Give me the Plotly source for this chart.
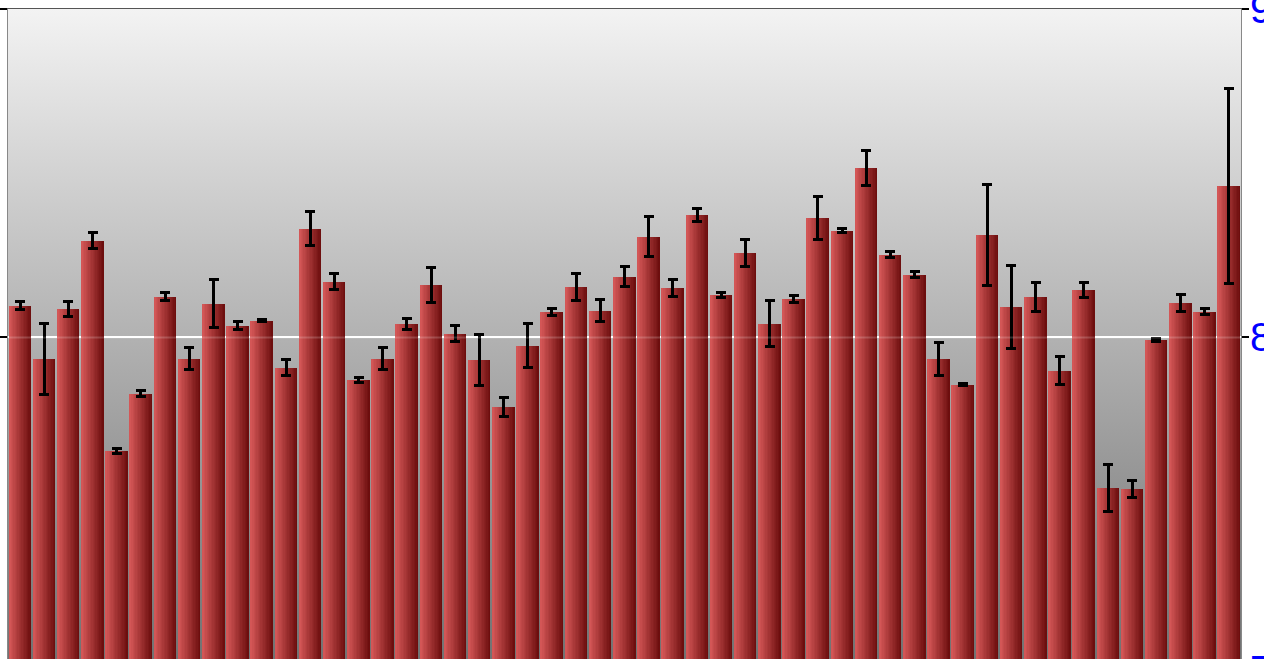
import base64
import plotly.graph_objects as go

# ---------------- data ----------------
categories = list(range(1, 52))
values = [8.097, 7.935, 8.087, 8.294, 7.655, 7.829, 8.124, 7.935, 8.103, 8.036,
          8.051, 7.908, 8.331, 8.170, 7.871, 7.935, 8.042, 8.160, 8.011, 7.932,
          7.789, 7.975, 8.078, 8.154, 8.081, 8.185, 8.307, 8.151, 8.374, 8.130,
          8.258, 8.042, 8.118, 8.364, 8.325, 8.517, 8.252, 8.191, 7.935, 7.856,
          8.313, 8.093, 8.124, 7.899, 8.145, 7.542, 7.539, 7.993, 8.106, 8.078,
          8.462]
errors = [0.012, 0.108, 0.022, 0.024, 0.008, 0.008, 0.012, 0.034, 0.073, 0.012,
          0.004, 0.025, 0.052, 0.025, 0.008, 0.033, 0.017, 0.053, 0.024, 0.078,
          0.029, 0.066, 0.010, 0.042, 0.034, 0.030, 0.060, 0.026, 0.020, 0.008,
          0.041, 0.071, 0.011, 0.065, 0.006, 0.053, 0.010, 0.009, 0.051, 0.003,
          0.154, 0.126, 0.044, 0.043, 0.022, 0.071, 0.026, 0.005, 0.026, 0.009,
          0.297]
tick_vals = [7, 8, 9]
tick_text = ["7", "8", "9"]

# ---------------- styling ----------------
Y_MIN, Y_MAX = 7.0207, 9.0
BAR_W = 0.91
N_STEPS = 16
LIGHT = (214, 88, 88)
DARK = (106, 12, 12)
LABEL_FONT = dict(family="Liberation Sans, Arial", size=40, color="#0000ff")

fig = go.Figure()

# horizontal gradient on bars: overlaid bars of decreasing width
for k in range(N_STEPS):
    t = (N_STEPS - k - 0.5) / N_STEPS  # position of visible strip from left (0) to right (1)
    c = tuple(int(round(LIGHT[i] + (DARK[i] - LIGHT[i]) * t)) for i in range(3))
    fig.add_trace(go.Bar(
        x=categories, y=values,
        width=BAR_W * (N_STEPS - k) / N_STEPS,
        offset=-BAR_W / 2,
        marker=dict(color="rgb(%d,%d,%d)" % c, line=dict(width=0)),
        hoverinfo="skip", showlegend=False,
    ))

# error bars on a transparent full-width bar
fig.add_trace(go.Bar(
    x=categories, y=values, width=BAR_W,
    marker=dict(color="rgba(0,0,0,0)", line=dict(width=0)),
    error_y=dict(type="data", array=errors, visible=True,
                 color="black", thickness=3, width=5),
    showlegend=False,
))

# vertical gradient background as an SVG image
svg = ('<svg xmlns="http://www.w3.org/2000/svg" width="10" height="100" '
       'viewBox="0 0 10 100" preserveAspectRatio="none">'
       '<defs><linearGradient id="g" x1="0" y1="0" x2="0" y2="1">'
       '<stop offset="0" stop-color="#f3f3f3"/>'
       '<stop offset="1" stop-color="#707070"/>'
       '</linearGradient></defs>'
       '<rect x="0" y="0" width="10" height="100" fill="url(#g)"/></svg>')
src = "data:image/svg+xml;base64," + base64.b64encode(svg.encode()).decode()

fig.add_layout_image(dict(
    source=src, xref="x", yref="y",
    x=categories[0] - 0.5, y=tick_vals[-1],
    sizex=len(categories), sizey=tick_vals[-1] - tick_vals[0],
    sizing="stretch", xanchor="left", yanchor="top",
    layer="below", opacity=1,
))

# faint gridline showing through the bars
fig.add_shape(type="line", xref="paper", yref="y", x0=0, x1=1, y0=8, y1=8,
              line=dict(color="white", width=2), opacity=0.18, layer="above")

# partially visible bottom label "7" (its value lies just below the visible range)
y7_paper = (tick_vals[0] - Y_MIN) / (Y_MAX - Y_MIN)
fig.add_annotation(x=1, xref="paper", y=y7_paper, yref="paper",
                   text=tick_text[0], showarrow=False, xanchor="left",
                   yanchor="middle", xshift=7, yshift=-4, font=LABEL_FONT)

fig.update_layout(
    template="none",
    width=1264, height=659,
    margin=dict(l=8, r=23, t=9, b=0, pad=0),
    barmode="overlay",
    bargap=0,
    paper_bgcolor="white",
    plot_bgcolor="#b0b0b0",
    showlegend=False,
    xaxis=dict(
        type="linear", range=[categories[0] - 0.5, categories[-1] + 0.5],
        showticklabels=False, ticks="", showgrid=False, zeroline=False,
        showline=True, linecolor="#555555", linewidth=1, mirror=True,
        automargin=False, fixedrange=True,
    ),
    yaxis=dict(
        side="right", range=[Y_MIN, Y_MAX],
        tickvals=tick_vals, ticktext=tick_text,
        ticks="outside", ticklen=7, tickwidth=2, tickcolor="black",
        tickfont=LABEL_FONT, ticklabelstandoff=-7, ticklabeloverflow="allow",
        showgrid=True, gridcolor="white", gridwidth=2, zeroline=False,
        showline=True, linecolor="#888888", linewidth=1, mirror="ticks",
        automargin=False, fixedrange=True,
    ),
)

fig.write_html("out.html",
               config={"displayModeBar": False},
               post_script="document.body.style.margin='0';document.body.style.overflow='hidden';")
